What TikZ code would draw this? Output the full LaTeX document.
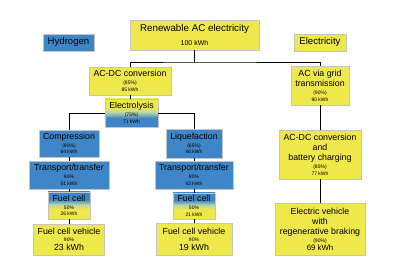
\documentclass[tikz,border=0pt]{standalone}
\usepackage{fontspec}
\setmainfont{Liberation Sans}
\definecolor{ylw}{HTML}{EFE84A}
\definecolor{blu}{HTML}{3F86C8}
\definecolor{midc}{HTML}{B9D5A6}
\definecolor{bdr}{HTML}{C4C4C4}
\pgfdeclareverticalshading{ytob}{100bp}{color(0bp)=(blu); color(41bp)=(blu); color(51bp)=(midc); color(61bp)=(ylw); color(100bp)=(ylw)}
\pgfdeclareverticalshading{btoy}{100bp}{color(0bp)=(ylw); color(43bp)=(ylw); color(52bp)=(midc); color(61bp)=(blu); color(100bp)=(blu)}
\newcommand{\mfnt}{\fontsize{8.8}{10.2}\selectfont}
\newcommand{\smt}[1]{{\fontsize{5}{6}\selectfont #1}}
\begin{document}
\begin{tikzpicture}[x=1pt,y=-1pt,
  box/.style={draw=bdr, line width=0.6pt, align=center, inner sep=1pt, font=\mfnt},
  yb/.style={box, fill=ylw},
  bb/.style={box, fill=blu},
  yblu/.style={box, shading=ytob},
  bylw/.style={box, shading=btoy},
  conn/.style={line width=0.9pt, black}]
\fill[white] (0,0) rectangle (400,267);
\useasboundingbox (0,0) rectangle (400,267);

\coordinate (j1) at (194.5,62);

\node[yb, minimum width=129pt, minimum height=30pt, font=\fontsize{9.8}{12}\selectfont] (ren) at (194.5,35) {Renewable AC electricity\\[2pt]{\fontsize{7}{8}\selectfont 100 kWh}};
\node[bb, minimum width=51pt, minimum height=17pt, font=\fontsize{9.6}{11}\selectfont] (hyd) at (68.5,42.5) {Hydrogen};
\node[yb, minimum width=52pt, minimum height=17pt, font=\fontsize{9.6}{11}\selectfont] (ele) at (320,42.5) {Electricity};

\node[yb, minimum width=82pt, minimum height=28pt] (acdc) at (130,81) {AC-DC conversion\\[-2.4pt]\smt{(85\%)}\\[-3.4pt]\smt{85 kWh}};
\node[yblu, minimum width=53pt, minimum height=28pt] (elec) at (131.5,113) {Electrolysis\\[-2.4pt]\smt{(75\%)}\\[-3.4pt]\smt{71 kWh}};

\node[bb, minimum width=60pt, minimum height=27pt] (comp) at (69,143.5) {Compression\\[-2.4pt]\smt{(90\%)}\\[-3.4pt]\smt{64 kWh}};
\node[bb, minimum width=56pt, minimum height=29pt] (liq) at (194,143.5) {Liquefaction\\[-2.4pt]\smt{(65\%)}\\[-3.4pt]\smt{46 kWh}};

\node[bb, minimum width=80pt, minimum height=28pt] (tt1) at (69,175) {Transport/transfer\\[-2.4pt]\smt{90\%}\\[-3.4pt]\smt{51 kWh}};
\node[bb, minimum width=78pt, minimum height=28pt] (tt2) at (194,175) {Transport/transfer\\[-2.4pt]\smt{90\%}\\[-3.4pt]\smt{42 kWh}};

\node[bylw, minimum width=42pt, minimum height=27pt] (fc1) at (69,205.5) {Fuel cell\\[-2.4pt]\smt{50\%}\\[-3.4pt]\smt{26 kWh}};
\node[bylw, minimum width=42pt, minimum height=26pt] (fc2) at (194,206) {Fuel cell\\[-2.4pt]\smt{50\%}\\[-3.4pt]\smt{21 kWh}};

\node[yb, minimum width=71pt, minimum height=31pt] (fcv1) at (69,239.5) {Fuel cell vehicle\\[-3pt]\smt{90\%}\\[-1.4pt]{\fontsize{8.8}{9}\selectfont 23 kWh}};
\node[yb, minimum width=76pt, minimum height=32pt] (fcv2) at (194,239) {Fuel cell vehicle\\[-3pt]\smt{90\%}\\[-1.4pt]{\fontsize{8.8}{9}\selectfont 19 kWh}};

\node[yb, minimum width=58pt, minimum height=39pt] (grid) at (320,85.5) {AC via grid\\transmission\\[-2.4pt]\smt{(90\%)}\\[-3.4pt]\smt{90 kWh}};
\node[yb, minimum width=82pt, minimum height=49pt] (bat) at (320,154.5) {AC-DC conversion\\and\\battery charging\\[-2.4pt]\smt{(85\%)}\\[-3.4pt]\smt{77 kWh}};
\node[yb, minimum width=90pt, minimum height=52pt] (ev) at (320,229) {Electric vehicle\\with\\regenerative braking\\[-2pt]\smt{(90\%)}\\[-2.6pt]{\fontsize{7.8}{9}\selectfont 69 kWh}};

\draw[conn] (ren.south) -- (j1);
\draw[conn] (acdc.north) |- (j1) -| (grid.north);
\draw[conn] (acdc.south) -- (acdc.south |- elec.north);
\draw[conn] (comp.north) |- (elec.west);
\draw[conn] (elec.east) -| (liq.north);
\draw[conn] (comp.south) -- (tt1.north);
\draw[conn] (tt1.south) -- (fc1.north);
\draw[conn] (fc1.south) -- (fcv1.north);
\draw[conn] (liq.south) -- (tt2.north);
\draw[conn] (tt2.south) -- (fc2.north);
\draw[conn] (fc2.south) -- (fcv2.north);
\draw[conn] (grid.south) -- (bat.north);
\draw[conn] (bat.south) -- (ev.north);
\end{tikzpicture}
\end{document}
